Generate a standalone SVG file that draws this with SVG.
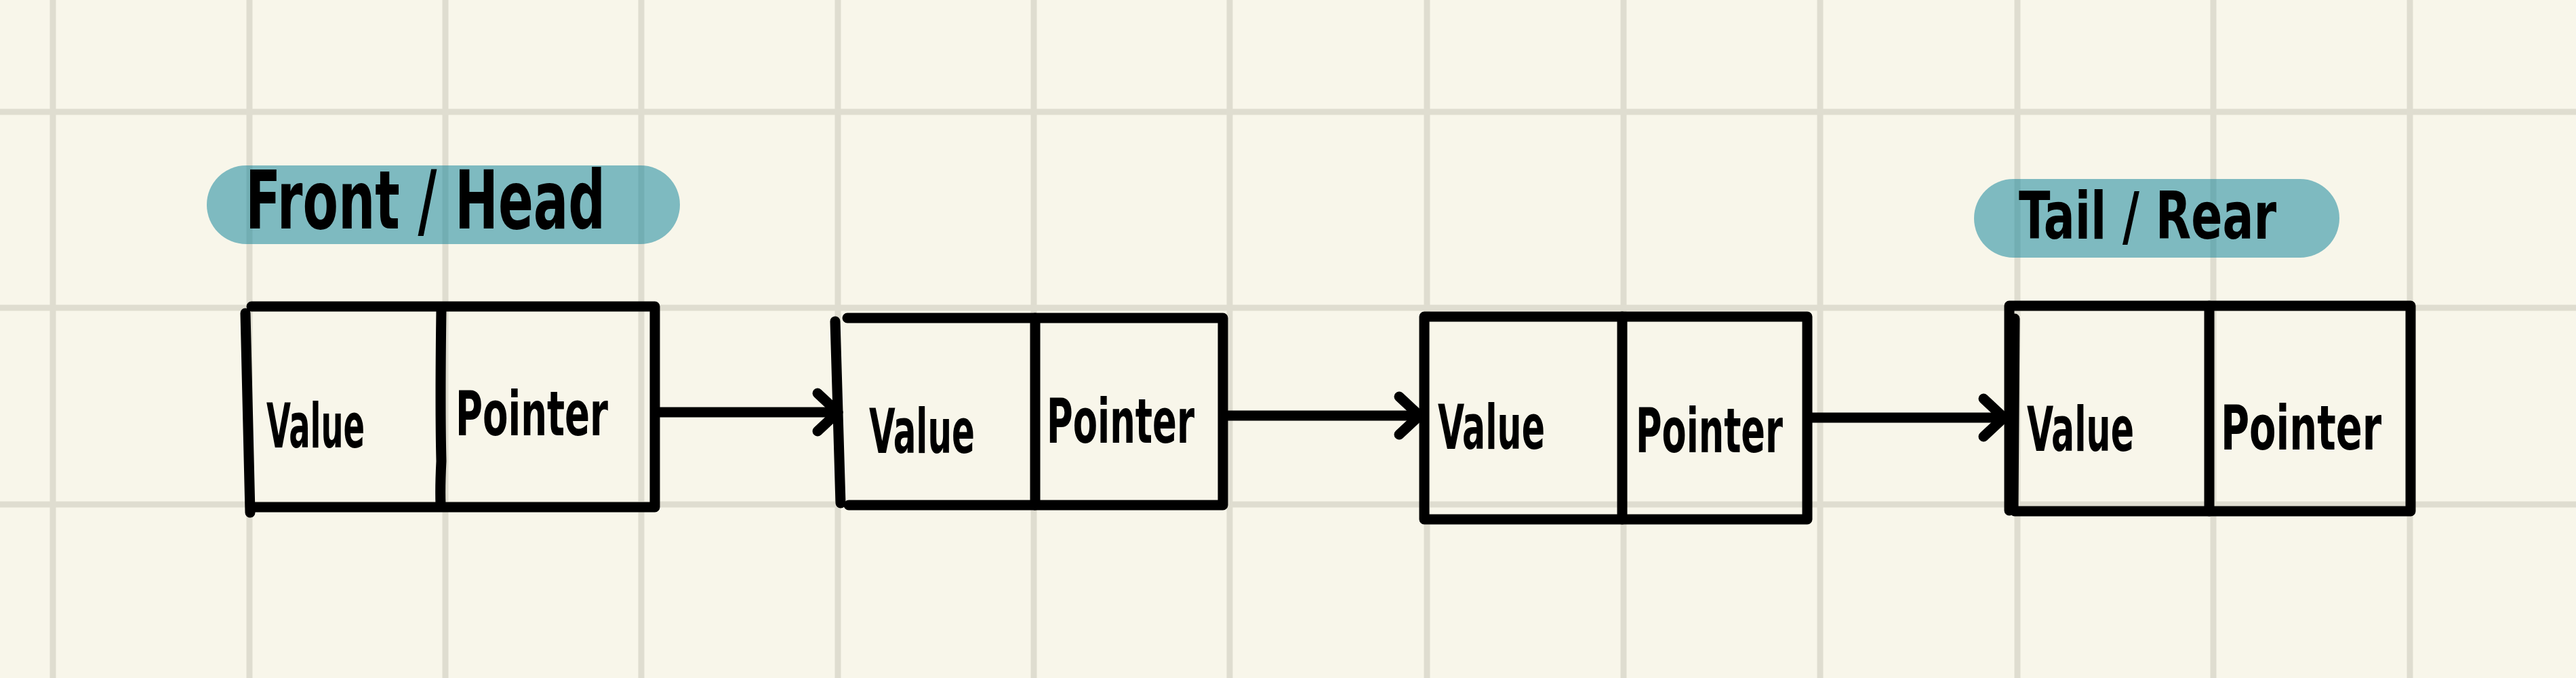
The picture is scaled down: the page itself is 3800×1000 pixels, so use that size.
<svg xmlns="http://www.w3.org/2000/svg" width="3800" height="1000" viewBox="0 0 3800 1000">
  <defs>
    <style>
      .grid line { stroke: #DFDDD0; stroke-width: 9; }
      .pill { fill: rgb(13,131,154); fill-opacity: 0.52; }
      .box { fill: none; stroke: #000; stroke-width: 15; stroke-linecap: round; stroke-linejoin: round; }
      .edge { fill: none; stroke: #000; stroke-width: 15; stroke-linecap: round; }
      .hand { font-family: "Liberation Sans Narrow", "DejaVu Sans Condensed", "Liberation Sans", sans-serif; font-weight: bold; fill: #000; }
      .cell { font-size: 90px; }
    </style>
    <marker id="chev" markerUnits="userSpaceOnUse" viewBox="0 0 60 80" markerWidth="60" markerHeight="80" refX="50" refY="40" orient="auto">
      <path d="M20 12 L50 40 L20 68" fill="none" stroke="#000" stroke-width="15" stroke-linecap="round" stroke-linejoin="round"/>
    </marker>
  </defs>

  <rect width="3800" height="1000" fill="#F8F6EA"/>

  <g class="grid">
    <line x1="78" y1="0" x2="78" y2="1000"/>
    <line x1="368" y1="0" x2="368" y2="1000"/>
    <line x1="657" y1="0" x2="657" y2="1000"/>
    <line x1="946" y1="0" x2="946" y2="1000"/>
    <line x1="1236" y1="0" x2="1236" y2="1000"/>
    <line x1="1525" y1="0" x2="1525" y2="1000"/>
    <line x1="1814" y1="0" x2="1814" y2="1000"/>
    <line x1="2105" y1="0" x2="2105" y2="1000"/>
    <line x1="2395" y1="0" x2="2395" y2="1000"/>
    <line x1="2685" y1="0" x2="2685" y2="1000"/>
    <line x1="2976" y1="0" x2="2976" y2="1000"/>
    <line x1="3265" y1="0" x2="3265" y2="1000"/>
    <line x1="3555" y1="0" x2="3555" y2="1000"/>
    <line x1="0" y1="165" x2="3800" y2="165"/>
    <line x1="0" y1="454" x2="3800" y2="454"/>
    <line x1="0" y1="744" x2="3800" y2="744"/>
  </g>

  <g id="label-front">
    <rect class="pill" x="305" y="244" width="698" height="116" rx="58"/>
    <text class="hand" x="362" y="337" font-size="120" textLength="531" lengthAdjust="spacingAndGlyphs">Front / Head</text>
  </g>

  <g id="label-tail">
    <rect class="pill" x="2912" y="264" width="539" height="116" rx="58"/>
    <text class="hand" x="2978" y="352" font-size="96" textLength="380" lengthAdjust="spacingAndGlyphs">Tail / Rear</text>
  </g>

  <g id="node1">
    <path class="box" d="M371 452 L966 452 L966 748 L371 748"/>
    <path class="edge" d="M362 462 L369 756"/>
    <path class="edge" d="M651 456 Q649 600 651 680 Q649 720 650 744"/>
    <text class="hand cell" x="393" y="660" textLength="145" lengthAdjust="spacingAndGlyphs">Value</text>
    <text class="hand cell" x="672" y="642" textLength="225" lengthAdjust="spacingAndGlyphs">Pointer</text>
  </g>

  <g id="node2">
    <path class="box" d="M1250 469 L1804 469 L1804 745 L1252 745"/>
    <path class="edge" d="M1232 474 L1240 742"/>
    <path class="edge" d="M1527 469 L1527 745"/>
    <text class="hand cell" x="1282" y="668" textLength="156" lengthAdjust="spacingAndGlyphs">Value</text>
    <text class="hand cell" x="1544" y="653" textLength="218" lengthAdjust="spacingAndGlyphs">Pointer</text>
  </g>

  <g id="node3">
    <path class="box" d="M2101 467 L2666 467 L2666 766 L2101 766 Z"/>
    <path class="edge" d="M2393 467 L2393 766"/>
    <text class="hand cell" x="2121" y="662" textLength="158" lengthAdjust="spacingAndGlyphs">Value</text>
    <text class="hand cell" x="2413" y="667" textLength="217" lengthAdjust="spacingAndGlyphs">Pointer</text>
  </g>

  <g id="node4">
    <path class="box" d="M2964 753 L2964 451 L3556 451 L3556 754 L2972 754"/>
    <path class="edge" d="M2972 470 L2970 750"/>
    <path class="edge" d="M3259 451 L3259 754"/>
    <text class="hand cell" x="2990" y="665" textLength="158" lengthAdjust="spacingAndGlyphs">Value</text>
    <text class="hand cell" x="3276" y="663" textLength="237" lengthAdjust="spacingAndGlyphs">Pointer</text>
  </g>

  <g id="connectors">
    <line class="edge" x1="973" y1="608" x2="1236" y2="608" marker-end="url(#chev)"/>
    <line class="edge" x1="1811" y1="613" x2="2094" y2="613" marker-end="url(#chev)"/>
    <line class="edge" x1="2673" y1="616" x2="2956" y2="616" marker-end="url(#chev)"/>
  </g>
</svg>
